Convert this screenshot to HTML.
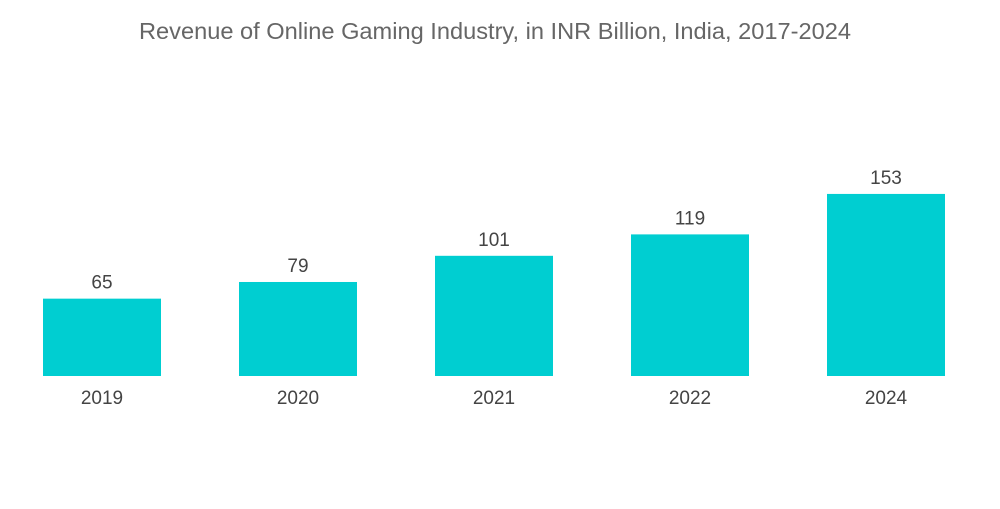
<!DOCTYPE html>
<html><head><meta charset="utf-8"><style>
body{margin:0;background:#fff;width:1000px;height:504px;overflow:hidden;font-family:"Liberation Sans",sans-serif}
</style></head><body>
<svg width="1000" height="504">
<text x="495" y="39" text-anchor="middle" font-size="23" textLength="712" lengthAdjust="spacingAndGlyphs" fill="#666">Revenue of Online Gaming Industry, in INR Billion, India, 2017-2024</text>
<g id="bars"></g>
</svg>
<script>
const categories=["2019","2020","2021","2022","2024"];
const values=[65,79,101,119,153];
const baseY=376, pxPerUnit=1.19, x0=43, pitch=196, bw=118;
function xPos(i){return x0+i*pitch;}
function yPos(v){return baseY-v*pxPerUnit;}
const g=document.getElementById('bars');
const ns="http://www.w3.org/2000/svg";
categories.forEach((c,i)=>{
  const r=document.createElementNS(ns,'rect');
  
  
  r.setAttribute('x',xPos(i));r.setAttribute('y',yPos(values[i]));
  r.setAttribute('width',bw);r.setAttribute('height',baseY-yPos(values[i]));
  r.setAttribute('fill','#00ced1');g.appendChild(r);
  const t=document.createElementNS(ns,'text');
  
  
  t.setAttribute('x',xPos(i)+bw/2);t.setAttribute('y',yPos(values[i])-10);
  t.setAttribute('text-anchor','middle');t.setAttribute('font-size','19');t.setAttribute('fill','#444');
  t.textContent=values[i];g.appendChild(t);
  const l=document.createElementNS(ns,'text');
  
  
  l.setAttribute('x',xPos(i)+bw/2);l.setAttribute('y',404);
  l.setAttribute('text-anchor','middle');l.setAttribute('font-size','19');l.setAttribute('fill','#444');
  l.textContent=c;g.appendChild(l);
});
</script>
</body></html>
